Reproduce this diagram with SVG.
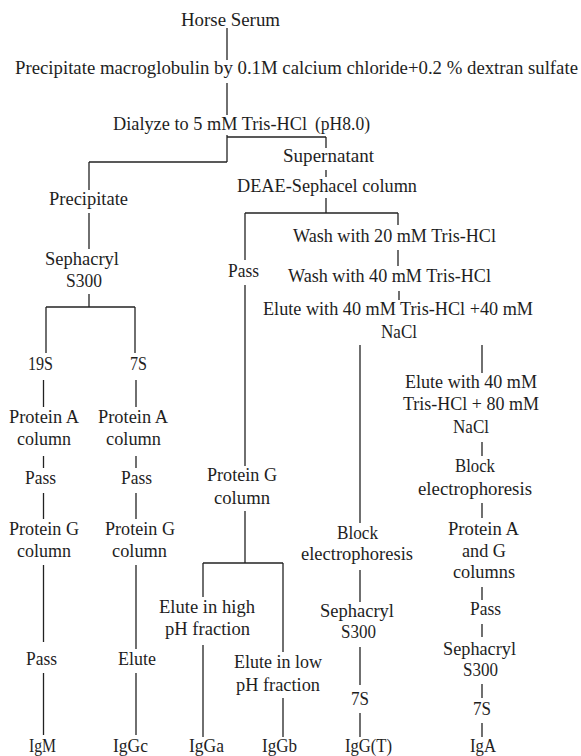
<svg xmlns="http://www.w3.org/2000/svg" width="581" height="756" viewBox="0 0 581 756">
<style>
text{font-family:"Liberation Serif","Times New Roman",serif;font-size:18px;fill:#1e1e1e;text-anchor:middle}
.c line{stroke:#222;stroke-width:1.3}
</style>
<rect width="581" height="756" fill="#fff"/>
<g id="connectors" class="c">
<line x1="227" y1="28" x2="227" y2="60"/>
<line x1="227" y1="83" x2="227" y2="115"/>
<line x1="227" y1="135" x2="227" y2="162"/>
<line x1="227" y1="137" x2="326" y2="137"/>
<line x1="326" y1="137" x2="326" y2="148"/>
<line x1="89" y1="162" x2="227" y2="162"/>
<line x1="89" y1="162" x2="89" y2="190"/>
<line x1="326" y1="170" x2="326" y2="177"/>
<line x1="326" y1="198" x2="326" y2="213"/>
<line x1="245" y1="213" x2="398" y2="213"/>
<line x1="398" y1="213" x2="398" y2="225"/>
<line x1="245" y1="213" x2="245" y2="260"/>
<line x1="89" y1="213" x2="89" y2="249"/>
<line x1="398" y1="250" x2="398" y2="266"/>
<line x1="399" y1="291" x2="399" y2="300"/>
<line x1="89" y1="294" x2="89" y2="307"/>
<line x1="46" y1="307" x2="135" y2="307"/>
<line x1="46" y1="307" x2="46" y2="353"/>
<line x1="135" y1="307" x2="135" y2="353"/>
<line x1="245" y1="285" x2="245" y2="466"/>
<line x1="360" y1="345" x2="360" y2="523"/>
<line x1="482" y1="345" x2="482" y2="373"/>
<line x1="43.5" y1="380" x2="43.5" y2="407"/>
<line x1="43.5" y1="456" x2="43.5" y2="468"/>
<line x1="43.5" y1="493" x2="43.5" y2="519"/>
<line x1="43.5" y1="565" x2="43.5" y2="642"/>
<line x1="43.5" y1="673" x2="43.5" y2="735"/>
<line x1="136" y1="380" x2="136" y2="407"/>
<line x1="136" y1="456" x2="136" y2="468"/>
<line x1="136" y1="493" x2="136" y2="519"/>
<line x1="136" y1="565" x2="136" y2="649"/>
<line x1="136" y1="673" x2="136" y2="735"/>
<line x1="245" y1="511" x2="245" y2="563"/>
<line x1="203" y1="563" x2="283" y2="563"/>
<line x1="203" y1="563" x2="203" y2="597"/>
<line x1="203" y1="645" x2="203" y2="737"/>
<line x1="283" y1="563" x2="283" y2="652"/>
<line x1="283" y1="698" x2="283" y2="737"/>
<line x1="360" y1="570" x2="360" y2="602"/>
<line x1="360" y1="647" x2="360" y2="685"/>
<line x1="360" y1="713" x2="360" y2="737"/>
<line x1="482" y1="442" x2="482" y2="456"/>
<line x1="482" y1="503" x2="482" y2="518"/>
<line x1="482" y1="587" x2="482" y2="600"/>
<line x1="482" y1="624" x2="482" y2="637"/>
<line x1="482" y1="684" x2="482" y2="698"/>
<line x1="482" y1="723" x2="482" y2="737"/>
</g>
<g id="horse-serum"><text x="230.5" y="26" textLength="99" lengthAdjust="spacingAndGlyphs">Horse Serum</text></g>
<g id="precipitate-macroglobulin"><text x="296.5" y="74" textLength="563" lengthAdjust="spacingAndGlyphs">Precipitate macroglobulin by 0.1M calcium chloride+0.2 % dextran sulfate</text></g>
<g id="dialyze"><text y="130" style="text-anchor:start"><tspan x="113" textLength="194" lengthAdjust="spacingAndGlyphs">Dialyze to 5 mM Tris-HCl</tspan> <tspan x="315" textLength="55" lengthAdjust="spacingAndGlyphs">(pH8.0)</tspan></text></g>
<g id="supernatant"><text x="328.5" y="162" textLength="91" lengthAdjust="spacingAndGlyphs">Supernatant</text></g>
<g id="deae"><text x="327" y="192" textLength="180" lengthAdjust="spacingAndGlyphs">DEAE-Sephacel column</text></g>
<g id="precipitate"><text x="88.5" y="205" textLength="79" lengthAdjust="spacingAndGlyphs">Precipitate</text></g>
<g id="sephacryl-1"><text x="82" y="265" textLength="74" lengthAdjust="spacingAndGlyphs">Sephacryl</text><text x="84" y="287" textLength="36" lengthAdjust="spacingAndGlyphs">S300</text></g>
<g id="s19"><text x="40.5" y="370" textLength="25" lengthAdjust="spacingAndGlyphs">19S</text></g>
<g id="s7-left"><text x="138.5" y="370" textLength="17" lengthAdjust="spacingAndGlyphs">7S</text></g>
<g id="pass-mid"><text x="243.5" y="277" textLength="31" lengthAdjust="spacingAndGlyphs">Pass</text></g>
<g id="wash20"><text x="394.5" y="242" textLength="203" lengthAdjust="spacingAndGlyphs">Wash with 20 mM Tris-HCl</text></g>
<g id="wash40"><text x="389.5" y="282" textLength="203" lengthAdjust="spacingAndGlyphs">Wash with 40 mM Tris-HCl</text></g>
<g id="elute40"><text x="398" y="315" textLength="270" lengthAdjust="spacingAndGlyphs">Elute with 40 mM Tris-HCl +40 mM</text><text x="399" y="338" textLength="36" lengthAdjust="spacingAndGlyphs">NaCl</text></g>
<g id="elute80"><text x="471" y="388" textLength="132" lengthAdjust="spacingAndGlyphs">Elute with 40 mM</text><text x="471" y="410" textLength="136" lengthAdjust="spacingAndGlyphs">Tris-HCl + 80 mM</text><text x="471" y="433" textLength="36" lengthAdjust="spacingAndGlyphs">NaCl</text></g>
<g id="block-right"><text x="475" y="472" textLength="40" lengthAdjust="spacingAndGlyphs">Block</text><text x="475" y="495" textLength="114" lengthAdjust="spacingAndGlyphs">electrophoresis</text></g>
<g id="protein-ag"><text x="483.5" y="535" textLength="71" lengthAdjust="spacingAndGlyphs">Protein A</text><text x="484" y="557" textLength="44" lengthAdjust="spacingAndGlyphs">and G</text><text x="484" y="578" textLength="62" lengthAdjust="spacingAndGlyphs">columns</text></g>
<g id="c1-proteinA"><text x="44" y="423" textLength="70" lengthAdjust="spacingAndGlyphs">Protein A</text><text x="44" y="445" textLength="54" lengthAdjust="spacingAndGlyphs">column</text></g>
<g id="c1-pass"><text x="40.5" y="484" textLength="31" lengthAdjust="spacingAndGlyphs">Pass</text></g>
<g id="c1-proteinG"><text x="44" y="535" textLength="70" lengthAdjust="spacingAndGlyphs">Protein G</text><text x="44" y="557" textLength="54" lengthAdjust="spacingAndGlyphs">column</text></g>
<g id="c1-pass2"><text x="41.5" y="665" textLength="31" lengthAdjust="spacingAndGlyphs">Pass</text></g>
<g id="igm"><text x="42.5" y="752" textLength="27" lengthAdjust="spacingAndGlyphs">IgM</text></g>
<g id="c2-proteinA"><text x="133" y="423" textLength="70" lengthAdjust="spacingAndGlyphs">Protein A</text><text x="133.5" y="445" textLength="55" lengthAdjust="spacingAndGlyphs">column</text></g>
<g id="c2-pass"><text x="136.5" y="484" textLength="31" lengthAdjust="spacingAndGlyphs">Pass</text></g>
<g id="c2-proteinG"><text x="140" y="535" textLength="70" lengthAdjust="spacingAndGlyphs">Protein G</text><text x="139.5" y="557" textLength="55" lengthAdjust="spacingAndGlyphs">column</text></g>
<g id="c2-elute"><text x="137" y="665" textLength="38" lengthAdjust="spacingAndGlyphs">Elute</text></g>
<g id="iggc"><text x="130.5" y="752" textLength="35" lengthAdjust="spacingAndGlyphs">IgGc</text></g>
<g id="mid-proteinG"><text x="242" y="481" textLength="70" lengthAdjust="spacingAndGlyphs">Protein G</text><text x="242" y="504" textLength="56" lengthAdjust="spacingAndGlyphs">column</text></g>
<g id="elute-high"><text x="207" y="613" textLength="96" lengthAdjust="spacingAndGlyphs">Elute in high</text><text x="207.5" y="635" textLength="85" lengthAdjust="spacingAndGlyphs">pH fraction</text></g>
<g id="igga"><text x="206.5" y="752" textLength="35" lengthAdjust="spacingAndGlyphs">IgGa</text></g>
<g id="elute-low"><text x="278" y="668" textLength="88" lengthAdjust="spacingAndGlyphs">Elute in low</text><text x="278" y="691" textLength="84" lengthAdjust="spacingAndGlyphs">pH fraction</text></g>
<g id="iggb"><text x="279.5" y="752" textLength="35" lengthAdjust="spacingAndGlyphs">IgGb</text></g>
<g id="block-left"><text x="357.5" y="539" textLength="41" lengthAdjust="spacingAndGlyphs">Block</text><text x="357" y="560" textLength="112" lengthAdjust="spacingAndGlyphs">electrophoresis</text></g>
<g id="sephacryl-4"><text x="357" y="617" textLength="74" lengthAdjust="spacingAndGlyphs">Sephacryl</text><text x="358.5" y="638" textLength="35" lengthAdjust="spacingAndGlyphs">S300</text></g>
<g id="s7-4"><text x="360" y="705" textLength="18" lengthAdjust="spacingAndGlyphs">7S</text></g>
<g id="iggt"><text x="368.5" y="752" textLength="47" lengthAdjust="spacingAndGlyphs">IgG(T)</text></g>
<g id="pass-5"><text x="485.5" y="615" textLength="31" lengthAdjust="spacingAndGlyphs">Pass</text></g>
<g id="sephacryl-5"><text x="479.5" y="655" textLength="73" lengthAdjust="spacingAndGlyphs">Sephacryl</text><text x="480.5" y="676" textLength="35" lengthAdjust="spacingAndGlyphs">S300</text></g>
<g id="s7-5"><text x="482" y="715" textLength="18" lengthAdjust="spacingAndGlyphs">7S</text></g>
<g id="iga"><text x="483" y="752" textLength="26" lengthAdjust="spacingAndGlyphs">IgA</text></g>
</svg>
